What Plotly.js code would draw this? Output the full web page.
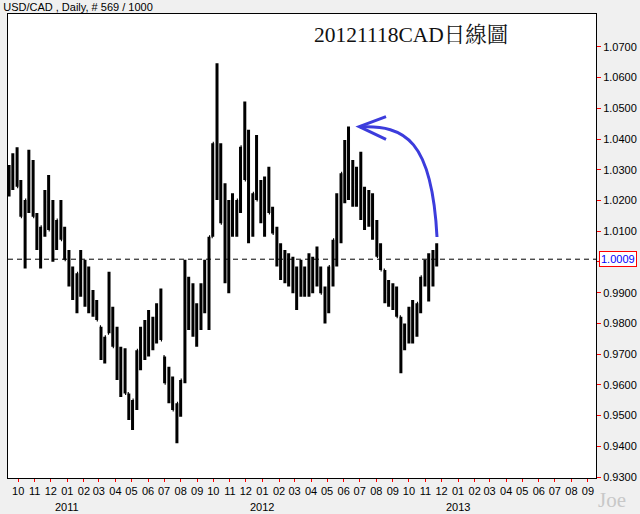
<!DOCTYPE html>
<html>
<head>
<meta charset="utf-8">
<script src="https://cdn.plot.ly/plotly-3.0.1.min.js"></script>
<style>
  html, body { margin: 0; padding: 0; background: #f0f0f0; }
  #chart { width: 640px; height: 514px; }
</style>
</head>
<body>
<div id="chart"></div>
<script>
const dates = [
  "2010-09-14","2010-09-21","2010-09-29","2010-10-06","2010-10-14","2010-10-21","2010-10-29","2010-11-05",
  "2010-11-12","2010-11-20","2010-11-27","2010-12-05","2010-12-12","2010-12-20","2010-12-27","2011-01-04",
  "2011-01-11","2011-01-19","2011-01-26","2011-02-03","2011-02-10","2011-02-18","2011-02-25","2011-03-05",
  "2011-03-12","2011-03-20","2011-03-27","2011-04-04","2011-04-11","2011-04-19","2011-04-26","2011-05-03",
  "2011-05-11","2011-05-18","2011-05-26","2011-06-02","2011-06-10","2011-06-17","2011-06-25","2011-07-02",
  "2011-07-10","2011-07-17","2011-07-25","2011-08-01","2011-08-09","2011-08-16","2011-08-24","2011-08-31",
  "2011-09-08","2011-09-15","2011-09-23","2011-09-30","2011-10-08","2011-10-15","2011-10-23","2011-10-30",
  "2011-11-06","2011-11-14","2011-11-21","2011-11-29","2011-12-06","2011-12-14","2011-12-21","2011-12-29",
  "2012-01-05","2012-01-13","2012-01-20","2012-01-28","2012-02-04","2012-02-12","2012-02-19","2012-02-27",
  "2012-03-05","2012-03-13","2012-03-20","2012-03-28","2012-04-04","2012-04-12","2012-04-19","2012-04-27",
  "2012-05-04","2012-05-12","2012-05-19","2012-05-27","2012-06-03","2012-06-10","2012-06-18","2012-06-25",
  "2012-07-03","2012-07-10","2012-07-18","2012-07-25","2012-08-02","2012-08-09","2012-08-17","2012-08-24",
  "2012-09-01","2012-09-08","2012-09-16","2012-09-23","2012-10-01","2012-10-08","2012-10-16","2012-10-23",
  "2012-10-31","2012-11-07","2012-11-15","2012-11-22"
];
const highs = [
  1.0316,1.0354,1.0373,1.0267,1.0202,1.0365,1.0332,1.0159,
  1.0115,1.0234,1.0283,1.0202,1.0137,1.0202,1.0115,1.0039,
  0.9985,0.9963,1.0039,1.0007,0.9985,0.9909,0.9876,0.9789,
  0.9757,0.9968,0.9854,0.9789,0.9724,0.9719,0.9572,0.9551,
  0.9713,0.9789,0.9811,0.9844,0.9822,0.9866,0.9914,0.9692,
  0.9659,0.9627,0.9540,0.9616,1.0007,0.9952,0.9931,0.9866,
  0.9931,1.0007,1.0082,1.0386,1.0647,1.0386,1.0256,1.0202,
  1.0224,1.0202,1.0375,1.0522,1.0430,1.0224,1.0413,1.0267,
  1.0278,1.0310,1.0180,1.0115,1.0061,1.0039,1.0028,1.0017,
  0.9985,1.0007,0.9985,1.0028,1.0017,1.0050,0.9985,0.9920,
  0.9985,1.0072,1.0224,1.0289,1.0397,1.0441,1.0332,1.0310,
  1.0359,1.0245,1.0234,1.0224,1.0137,1.0061,0.9974,0.9941,
  0.9931,0.9920,0.9822,0.9800,0.9854,0.9876,0.9866,0.9952,
  1.0007,1.0028,1.0039,1.0061
];
const lows = [
  1.0213,1.0234,1.0245,1.0147,0.9979,1.0159,1.0147,1.0039,
  0.9979,1.0082,1.0104,1.0001,1.0039,1.0072,1.0007,0.9920,
  0.9876,0.9833,0.9887,0.9854,0.9833,0.9822,0.9811,0.9681,
  0.9670,0.9768,0.9724,0.9616,0.9561,0.9572,0.9486,0.9453,
  0.9518,0.9648,0.9681,0.9692,0.9713,0.9735,0.9746,0.9605,
  0.9540,0.9518,0.9410,0.9496,0.9605,0.9779,0.9757,0.9724,
  0.9779,0.9833,0.9779,1.0082,1.0202,1.0126,0.9931,0.9898,
  1.0082,1.0082,1.0159,1.0267,1.0061,1.0082,1.0202,1.0126,
  1.0082,1.0159,1.0093,0.9985,0.9941,0.9931,0.9920,0.9898,
  0.9844,0.9887,0.9887,0.9887,0.9898,0.9920,0.9898,0.9800,
  0.9833,0.9920,0.9985,1.0061,1.0191,1.0202,1.0180,1.0180,
  1.0137,1.0104,1.0115,1.0072,1.0017,0.9974,0.9866,0.9854,
  0.9844,0.9822,0.9638,0.9713,0.9735,0.9735,0.9757,0.9833,
  0.9920,0.9871,0.9920,0.9985
];
const opens = [
  1.0240,1.0294,1.0309,1.0245,1.0147,1.0202,1.0240,1.0147,
  1.0047,1.0115,1.0194,1.0104,1.0088,1.0137,1.0072,1.0007,
  0.9931,0.9898,0.9963,0.9931,0.9909,0.9866,0.9844,0.9789,
  0.9714,0.9768,0.9789,0.9724,0.9643,0.9646,0.9572,0.9502,
  0.9551,0.9713,0.9746,0.9768,0.9768,0.9801,0.9830,0.9692,
  0.9605,0.9573,0.9518,0.9540,0.9616,0.9866,0.9844,0.9795,
  0.9855,0.9920,0.9931,1.0082,1.0386,1.0256,1.0126,1.0050,
  1.0153,1.0142,1.0202,1.0375,1.0267,1.0153,1.0224,1.0202,
  1.0180,1.0235,1.0159,1.0093,1.0001,0.9985,0.9974,0.9958,
  0.9915,0.9947,0.9936,0.9958,0.9958,0.9985,0.9942,0.9898,
  0.9909,0.9985,1.0072,1.0175,1.0289,1.0322,1.0256,1.0245,
  1.0248,1.0175,1.0175,1.0148,1.0077,1.0018,0.9974,0.9898,
  0.9888,0.9871,0.9822,0.9757,0.9795,0.9806,0.9812,0.9866,
  0.9952,0.9950,0.9980,1.0023
];
const closes = [
  1.0294,1.0309,1.0245,1.0147,1.0202,1.0240,1.0147,1.0047,
  1.0115,1.0194,1.0104,1.0088,1.0137,1.0072,1.0007,0.9931,
  0.9898,0.9963,0.9931,0.9909,0.9866,0.9844,0.9811,0.9714,
  0.9757,0.9789,0.9724,0.9643,0.9646,0.9572,0.9502,0.9551,
  0.9713,0.9746,0.9768,0.9768,0.9801,0.9830,0.9746,0.9605,
  0.9573,0.9518,0.9540,0.9616,0.9866,0.9844,0.9795,0.9855,
  0.9920,0.9931,1.0082,1.0386,1.0256,1.0126,1.0050,1.0153,
  1.0142,1.0202,1.0375,1.0267,1.0153,1.0224,1.0202,1.0180,
  1.0235,1.0159,1.0093,1.0001,0.9985,0.9974,0.9958,0.9915,
  0.9947,0.9936,0.9958,0.9958,0.9985,0.9942,0.9898,0.9909,
  0.9985,1.0072,1.0175,1.0289,1.0322,1.0256,1.0245,1.0248,
  1.0175,1.0175,1.0148,1.0077,1.0018,0.9974,0.9898,0.9888,
  0.9871,0.9822,0.9757,0.9795,0.9806,0.9812,0.9866,0.9952,
  0.9950,0.9980,1.0023,1.0009
];
const lastPrice = 1.0009;
const yTickVals = [0.93,0.94,0.95,0.96,0.97,0.98,0.99,1.00,1.01,1.02,1.03,1.04,1.05,1.06,1.07];
const yTickText = ["0.9300","0.9400","0.9500","0.9600","0.9700","0.9800","0.9900","","1.0100","1.0200","1.0300","1.0400","1.0500","1.0600","1.0700"];
const yearLabels = ["2011","2012","2013"];
const yearDates = ["2011-01-01","2012-01-01","2013-01-01"];
const chartTitle = "USD/CAD , Daily, # 569 / 1000";
const noteText = "20121118CAD日線圖";

const trace = {
  type: "ohlc",
  x: dates, open: opens, high: highs, low: lows, close: closes,
  increasing: { line: { color: "#000000", width: 3 } },
  decreasing: { line: { color: "#000000", width: 3 } },
  tickwidth: 0.3,
  hoverinfo: "none",
  showlegend: false
};

const tickFont = { family: "Liberation Sans, Arial, sans-serif", size: 11, color: "#000000" };

const annotations = yearLabels.map((t, i) => ({
  text: t, x: yearDates[i], xref: "x", y: 0, yref: "paper",
  yanchor: "top", yshift: -21, showarrow: false, font: tickFont
}));
annotations.push({
  text: lastPrice.toFixed(4), x: 1, xref: "paper", xanchor: "left", xshift: 3,
  y: lastPrice, yref: "y", yanchor: "middle", showarrow: false,
  font: { family: "Liberation Sans, Arial, sans-serif", size: 11, color: "#0000ff" },
  bgcolor: "#ffffff", bordercolor: "#ff0000", borderwidth: 1, borderpad: 1
});
annotations.push({
  text: noteText, x: 0.6862, xref: "paper", xanchor: "center",
  y: 0.955, yref: "paper", yanchor: "middle", showarrow: false,
  font: { family: "Liberation Serif, 'Noto Serif CJK TC', 'Noto Sans CJK TC', serif", size: 21.5, color: "#111111" }
});
annotations.push({
  text: "Joe", xref: "paper", x: 1.0272, xanchor: "center",
  yref: "paper", y: -0.047, yanchor: "middle", showarrow: false,
  font: { family: "Liberation Serif, serif", size: 21, color: "#c8c8c8" }
});

const layout = {
  width: 640, height: 514,
  margin: { l: 8, r: 44, t: 14, b: 36, pad: 0 },
  paper_bgcolor: "#f0f0f0",
  plot_bgcolor: "#ffffff",
  title: {
    text: chartTitle, x: 0.005, xanchor: "left", xref: "container",
    y: 0.987, yanchor: "middle", yref: "container",
    font: { family: "Liberation Sans, Arial, sans-serif", size: 11, color: "#000000" }
  },
  xaxis: {
    type: "date",
    range: ["2010-09-12", "2013-09-16"],
    tick0: "2010-10-01", dtick: "M1", tickformat: "%m",
    ticks: "outside", ticklen: 3, tickcolor: "#ff0000", tickwidth: 1,
    showline: true, linecolor: "#000000", linewidth: 1, mirror: true,
    showgrid: false, zeroline: false,
    tickfont: tickFont,
    rangeslider: { visible: false },
    fixedrange: true
  },
  yaxis: {
    side: "right",
    range: [0.9297, 1.0807],
    tickvals: yTickVals, ticktext: yTickText,
    ticks: "outside", ticklen: 4, tickcolor: "#ff0000", tickwidth: 1,
    showline: true, linecolor: "#000000", linewidth: 1, mirror: true,
    showgrid: false, zeroline: false,
    tickfont: tickFont,
    fixedrange: true
  },
  shapes: [
    { type: "line", xref: "paper", x0: 0, x1: 1, yref: "y", y0: lastPrice, y1: lastPrice,
      line: { color: "#000000", width: 1, dash: "5px,4px" } },
    { type: "path", xref: "paper", yref: "paper",
      path: "M0.5986,0.7565 C0.6752,0.7608 0.7211,0.7284 0.7296,0.5194",
      line: { color: "#3c3cdc", width: 3 } },
    { type: "path", xref: "paper", yref: "paper",
      path: "M0.6429,0.7787 L0.5974,0.7571 L0.6429,0.7300",
      line: { color: "#3c3cdc", width: 3 } }
  ],
  annotations: annotations
};

Plotly.newPlot("chart", [trace], layout, { staticPlot: true, displayModeBar: false });
</script>
</body>
</html>
